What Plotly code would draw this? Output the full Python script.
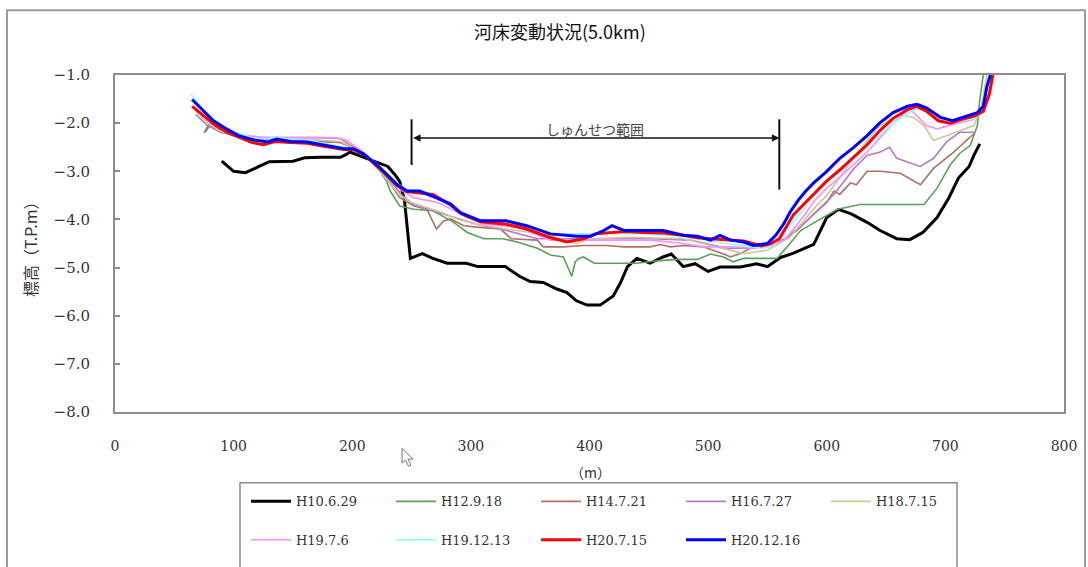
import plotly.graph_objects as go

# ---------------- data ----------------
names = ["H10.6.29", "H12.9.18", "H14.7.21", "H16.7.27", "H18.7.15",
         "H19.7.6", "H19.12.13", "H20.7.15", "H20.12.16"]

x_h10 = [90,100,110,120,130,150,160,173,190,195,198,212,223,230,236,240,244,249,259,268,280,296,306,311,329,341,350,361,372,381,389,398,409,420,426,432,440,451,462,469,479,489,500,510,527,541,550,561,572,589,600,610,621,634,645,659,670,681,693,703,711,720,724,729]
y_h10 = [-2.79,-3.0,-3.03,-2.92,-2.8,-2.79,-2.72,-2.71,-2.71,-2.65,-2.6,-2.73,-2.84,-2.9,-3.07,-3.21,-3.6,-4.81,-4.71,-4.81,-4.91,-4.91,-4.98,-4.98,-4.98,-5.18,-5.29,-5.31,-5.44,-5.52,-5.69,-5.78,-5.78,-5.59,-5.32,-4.98,-4.81,-4.91,-4.78,-4.72,-4.98,-4.92,-5.08,-4.99,-4.99,-4.92,-4.98,-4.79,-4.7,-4.52,-3.96,-3.79,-3.89,-4.06,-4.23,-4.4,-4.42,-4.27,-3.96,-3.55,-3.14,-2.9,-2.67,-2.43]

x_h12 = [75,80,90,100,115,130,150,170,190,200,212,222,229,232,240,252,268,285,297,311,327,339,356,367,378,385,388,391,395,404,423,440,457,474,491,502,513,521,530,552,558,569,578,592,609,628,651,682,693,704,712,721,727,729,732]
y_h12 = [-2.2,-2.0,-2.1,-2.2,-2.3,-2.33,-2.35,-2.38,-2.4,-2.5,-2.7,-2.95,-3.21,-3.41,-3.72,-3.79,-3.82,-4.05,-4.27,-4.4,-4.4,-4.47,-4.6,-4.74,-4.78,-5.18,-4.88,-4.81,-4.78,-4.91,-4.91,-4.91,-4.86,-4.83,-4.83,-4.72,-4.78,-4.88,-4.81,-4.81,-4.81,-4.5,-4.23,-4.03,-3.79,-3.69,-3.69,-3.69,-3.35,-2.87,-2.63,-2.46,-2.05,-1.51,-1.0]

x_h14 = [76,80,90,100,115,130,150,170,190,200,212,225,240,252,263,271,277,283,294,305,325,334,356,361,378,395,415,429,451,460,468,479,496,513,519,527,538,550,564,575,589,600,606,611,620,625,634,645,662,679,690,707,724]
y_h14 = [-2.19,-2.05,-2.15,-2.25,-2.3,-2.33,-2.35,-2.37,-2.4,-2.5,-2.7,-3.0,-3.55,-3.72,-3.79,-4.2,-4.03,-3.99,-4.13,-4.16,-4.2,-4.4,-4.43,-4.57,-4.57,-4.54,-4.54,-4.57,-4.57,-4.52,-4.57,-4.54,-4.57,-4.72,-4.78,-4.71,-4.57,-4.54,-4.43,-4.23,-3.89,-3.65,-3.41,-3.48,-3.24,-3.28,-3.0,-3.0,-3.04,-3.28,-2.94,-2.6,-2.22]

x_h16 = [68,78,90,100,115,130,150,170,190,198,210,222,232,242,252,265,282,305,330,356,395,451,485,516,536,552,565,580,595,606,623,634,645,653,659,668,679,690,701,712,724]
y_h16 = [-1.82,-2.05,-2.2,-2.25,-2.3,-2.3,-2.3,-2.3,-2.32,-2.45,-2.62,-2.9,-3.2,-3.5,-3.7,-3.8,-3.93,-4.1,-4.23,-4.4,-4.4,-4.4,-4.43,-4.6,-4.6,-4.54,-4.4,-4.1,-3.75,-3.48,-2.94,-2.67,-2.6,-2.5,-2.73,-2.8,-2.9,-2.73,-2.39,-2.19,-2.19]

x_h18 = [68,78,88,100,115,130,150,170,190,200,210,220,230,240,250,262,275,290,305,330,367,389,400,437,479,507,530,550,569,580,590,600,612,625,642,656,662,673,682,690,701,712,724,730,735]
y_h18 = [-1.75,-2.0,-2.15,-2.25,-2.3,-2.33,-2.35,-2.35,-2.38,-2.5,-2.65,-2.9,-3.2,-3.5,-3.65,-3.75,-3.85,-4.0,-4.1,-4.2,-4.33,-4.5,-4.4,-4.37,-4.4,-4.57,-4.71,-4.64,-4.37,-4.05,-3.75,-3.5,-3.1,-2.65,-2.12,-1.88,-1.82,-1.88,-2.05,-2.36,-2.26,-2.16,-2.05,-1.7,-1.0]

x_h19a = [68,78,88,98,110,125,140,155,170,185,195,203,212,222,232,242,252,262,272,283,296,311,339,367,395,451,479,496,521,538,552,564,572,580,590,600,612,623,634,645,656,670,684,693,707,724,732,736]
y_h19a = [-1.7,-1.95,-2.1,-2.2,-2.25,-2.3,-2.3,-2.3,-2.3,-2.3,-2.35,-2.5,-2.65,-2.9,-3.15,-3.4,-3.55,-3.6,-3.65,-3.78,-3.95,-4.1,-4.16,-4.43,-4.43,-4.43,-4.5,-4.57,-4.57,-4.6,-4.54,-4.43,-4.2,-3.95,-3.6,-3.35,-3.1,-2.85,-2.6,-2.3,-2.0,-1.7,-2.05,-2.12,-2.02,-1.92,-1.6,-1.0]

x_h19b = [64,75,85,95,105,115,125,135,148,162,176,193,201,210,221,230,238,246,257,270,283,292,308,330,347,366,389,401,414,430,446,462,479,491,502,515,530,545,555,562,570,580,590,600,612,623,634,645,656,668,676,684,694,704,714,725,732,736]
y_h19b = [-1.4,-1.75,-1.98,-2.12,-2.22,-2.3,-2.33,-2.3,-2.33,-2.35,-2.42,-2.5,-2.52,-2.62,-2.85,-3.05,-3.25,-3.38,-3.45,-3.55,-3.7,-3.85,-4.0,-4.05,-4.15,-4.3,-4.3,-4.3,-4.25,-4.3,-4.3,-4.32,-4.35,-4.4,-4.45,-4.5,-4.55,-4.6,-4.55,-4.35,-4.1,-3.8,-3.5,-3.25,-3.0,-2.75,-2.5,-2.25,-2.0,-1.8,-1.7,-1.75,-1.9,-2.0,-1.95,-1.9,-1.7,-1.0]

x_h20a = [65,75,85,95,105,115,125,135,148,162,176,193,201,210,221,230,238,246,257,268,283,292,308,330,347,366,381,395,405,418,430,446,462,479,491,502,515,530,545,553,560,566,572,580,590,600,612,623,634,645,656,668,676,684,694,704,714,725,732,737,740]
y_h20a = [-1.65,-1.85,-2.05,-2.2,-2.3,-2.4,-2.45,-2.38,-2.4,-2.42,-2.48,-2.55,-2.55,-2.65,-2.9,-3.1,-3.3,-3.42,-3.45,-3.48,-3.7,-3.88,-4.05,-4.1,-4.2,-4.37,-4.47,-4.4,-4.3,-4.28,-4.25,-4.27,-4.28,-4.33,-4.38,-4.4,-4.43,-4.45,-4.55,-4.5,-4.4,-4.15,-3.9,-3.7,-3.45,-3.2,-2.95,-2.7,-2.45,-2.15,-1.9,-1.72,-1.65,-1.75,-1.95,-2.0,-1.92,-1.85,-1.75,-1.4,-1.0]

x_h20b = [65,75,83,94,104,117,129,136,148,162,176,193,201,209,221,229,238,246,257,271,283,291,308,330,347,367,389,401,412,419,429,446,462,479,491,502,510,519,530,538,550,557,564,569,576,582,589,600,611,623,634,645,656,668,676,684,696,706,715,727,732,735,738]
y_h20b = [-1.51,-1.75,-1.95,-2.12,-2.26,-2.35,-2.39,-2.33,-2.38,-2.39,-2.46,-2.53,-2.53,-2.63,-2.87,-3.07,-3.28,-3.41,-3.41,-3.55,-3.68,-3.86,-4.03,-4.03,-4.13,-4.30,-4.35,-4.35,-4.23,-4.13,-4.23,-4.23,-4.23,-4.33,-4.35,-4.43,-4.33,-4.43,-4.47,-4.54,-4.50,-4.33,-4.08,-3.85,-3.6,-3.42,-3.24,-3.0,-2.73,-2.5,-2.26,-1.99,-1.78,-1.65,-1.61,-1.68,-1.88,-1.95,-1.88,-1.78,-1.65,-1.24,-1.0]

xs = [x_h10, x_h12, x_h14, x_h16, x_h18, x_h19a, x_h19b, x_h20a, x_h20b]
ys = [y_h10, y_h12, y_h14, y_h16, y_h18, y_h19a, y_h19b, y_h20a, y_h20b]

y_ticks = [-1, -2, -3, -4, -5, -6, -7, -8]
x_ticks = [0, 100, 200, 300, 400, 500, 600, 700, 800]

dredge_start, dredge_end = 250, 560

# ---------------- style ----------------
colors = ["#000000", "#58a258", "#b36e68", "#b47cc6", "#c9c99a",
          "#ff8cff", "#8cffff", "#ff0000", "#0000ff"]
widths = [3, 1.6, 1.6, 1.6, 1.6, 1.6, 1.6, 3, 3]

W, H = 1088, 567
PL, PR, PT, PB = 115, 1064, 75, 418


def px(xp):
    return (xp - PL) / (PR - PL)


def py(yp):
    return (PB - yp) / (PB - PT)


fig = go.Figure()
for i, (n, x, y) in enumerate(zip(names, xs, ys)):
    fig.add_trace(go.Scatter(
        x=x, y=y, mode="lines", name=n,
        line=dict(color=colors[i], width=widths[i]),
        legend="legend" if i < 5 else "legend2",
    ))

serif = "DejaVu Serif"
cjk = "Noto Sans CJK JP"

leg_common = dict(orientation="h", xanchor="left", yanchor="middle",
                  bgcolor="rgba(0,0,0,0)", borderwidth=0,
                  font=dict(family=serif, size=13, color="#333"),
                  entrywidth=90, entrywidthmode="pixels", itemwidth=40,
                  tracegroupgap=0)

fig.update_layout(
    width=W, height=H,
    margin=dict(l=PL, r=W - PR, t=PT, b=H - PB),
    paper_bgcolor="white", plot_bgcolor="white",
    showlegend=True,
    legend=dict(x=px(246), y=py(509), **leg_common),
    legend2=dict(x=px(246), y=py(548), **leg_common),
    xaxis=dict(range=[0, 800], tickvals=x_ticks, showgrid=False, zeroline=False,
               showline=True, linecolor="#8c8c8c", linewidth=2, mirror=True,
               ticks="", ticklabelstandoff=20,
               tickfont=dict(family=serif, size=14, color="#333")),
    yaxis=dict(range=[-8, -1], tickvals=y_ticks, tickformat=".1f",
               showgrid=False, zeroline=False,
               showline=True, linecolor="#8c8c8c", linewidth=2, mirror=True,
               ticks="inside", ticklen=5, tickcolor="#8c8c8c", tickwidth=1.5,
               ticklabelstandoff=20,
               tickfont=dict(family=serif, size=15, color="#333")),
)

shapes = [
    # outer frame
    dict(type="rect", xref="paper", yref="paper", x0=px(7), x1=px(1085), y0=py(620), y1=py(9),
         line=dict(color="#9a9a9a", width=2), layer="below"),
    # legend frame
    dict(type="rect", xref="paper", yref="paper", x0=px(240), x1=px(957), y0=py(620), y1=py(490),
         line=dict(color="#8c8c8c", width=1.5)),
    # dredge range bars
    dict(type="line", xref="x", yref="y", x0=dredge_start, x1=dredge_start, y0=-1.92, y1=-2.87,
         line=dict(color="#111", width=2)),
    dict(type="line", xref="x", yref="y", x0=dredge_end, x1=dredge_end, y0=-1.92, y1=-3.38,
         line=dict(color="#111", width=2)),
    # mouse cursor (screenshot artefact)
    dict(type="path", xref="paper", yref="paper",
         path=f"M {px(402)} {py(455)} L {px(402)} {py(470)} L {px(405.5)} {py(467)} "
              f"L {px(408.5)} {py(473)} L {px(411)} {py(472)} L {px(408)} {py(466)} "
              f"L {px(413)} {py(466)} Z",
         fillcolor="white", line=dict(color="#777", width=1)),
]

annotations = [
    dict(text="河床変動状況(5.0km)", xref="paper", yref="paper", x=px(560), y=py(30),
         showarrow=False, font=dict(family=cjk, size=18, color="#111"), xanchor="center", yanchor="middle"),
    dict(text="標高（T.P.m）", xref="paper", yref="paper", x=px(30), y=py(248), textangle=-90,
         showarrow=False, font=dict(family=cjk, size=16, color="#333"), xanchor="center", yanchor="middle"),
    dict(text="（m）", xref="paper", yref="paper", x=px(590), y=py(479),
         showarrow=False, font=dict(family=cjk, size=14, color="#333"), xanchor="center", yanchor="middle"),
    dict(text="しゅんせつ範囲", xref="x", yref="y", x=(dredge_start + dredge_end) / 2, y=-2.12,
         showarrow=False, font=dict(family=cjk, size=14, color="#444"), xanchor="center", yanchor="middle"),
    dict(text="", xref="x", yref="y", axref="x", ayref="y",
         x=dredge_end, y=-2.31, ax=dredge_start, ay=-2.31,
         showarrow=True, arrowhead=2, startarrowhead=2, arrowside="end+start",
         arrowsize=1, arrowwidth=1.5, arrowcolor="#111", standoff=0, startstandoff=0),
]

fig.update_layout(shapes=shapes, annotations=annotations)

fig.write_html("out.html")
